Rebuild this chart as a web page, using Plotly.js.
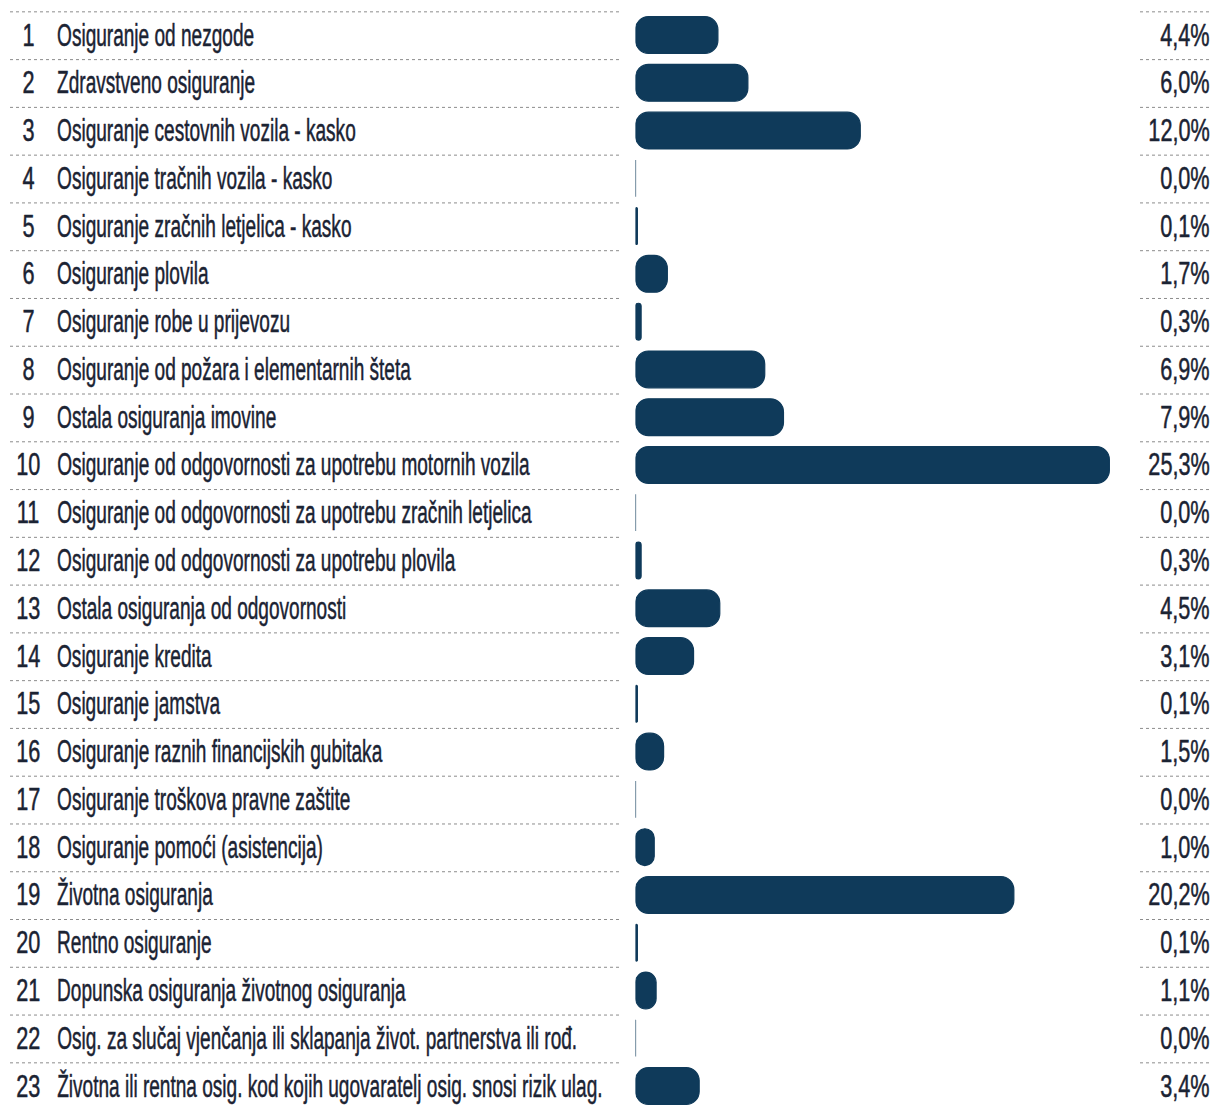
<!DOCTYPE html>
<html><head><meta charset="utf-8">
<script src="https://cdn.plot.ly/plotly-3.0.1.min.js"></script>
<style>html,body{margin:0;padding:0;background:#fff}#chart{width:1213px;height:1106px}</style>
</head><body><div id="chart"></div>
<script>
const rankNumbers = ["1","2","3","4","5","6","7","8","9","10","11","12","13","14","15","16","17","18","19","20","21","22","23"];
const categories = [
  "Osiguranje od nezgode",
  "Zdravstveno osiguranje",
  "Osiguranje cestovnih vozila - kasko",
  "Osiguranje tračnih vozila - kasko",
  "Osiguranje zračnih letjelica - kasko",
  "Osiguranje plovila",
  "Osiguranje robe u prijevozu",
  "Osiguranje od požara i elementarnih šteta",
  "Ostala osiguranja imovine",
  "Osiguranje od odgovornosti za upotrebu motornih vozila",
  "Osiguranje od odgovornosti za upotrebu zračnih letjelica",
  "Osiguranje od odgovornosti za upotrebu plovila",
  "Ostala osiguranja od odgovornosti",
  "Osiguranje kredita",
  "Osiguranje jamstva",
  "Osiguranje raznih financijskih gubitaka",
  "Osiguranje troškova pravne zaštite",
  "Osiguranje pomoći (asistencija)",
  "Životna osiguranja",
  "Rentno osiguranje",
  "Dopunska osiguranja životnog osiguranja",
  "Osig. za slučaj vjenčanja ili sklapanja život. partnerstva ili rođ.",
  "Životna ili rentna osig. kod kojih ugovaratelj osig. snosi rizik ulag."
];
const shares = [4.4, 6.0, 12.0, 0.0, 0.1, 1.7, 0.3, 6.9, 7.9, 25.3, 0.0, 0.3, 4.5, 3.1, 0.1, 1.5, 0.0, 1.0, 20.2, 0.1, 1.1, 0.0, 3.4];

const W = 1213, H = 1106;
const BAR = '#0f3a5a';
const TXT = '#1b2333';
const FONT = '"Liberation Sans", Arial, sans-serif';
const FS = 31;

const traces = [
  {type: 'bar', orientation: 'h', y: categories, x: shares, base: 0,
   width: 0.77, marker: {color: BAR, cornerradius: 13, line: {color: BAR, width: 1.2}},
   hoverinfo: 'skip', showlegend: false}
];

const annotations = [];
categories.forEach((c, i) => {
  annotations.push({xref: 'paper', yref: 'y', x: 28 / W, y: c, text: rankNumbers[i], showarrow: false,
    xanchor: 'center', yanchor: 'middle', yshift: 0, font: {family: FONT, size: FS, color: TXT}});
  annotations.push({xref: 'paper', yref: 'y', x: 55 / W, y: c, text: c, showarrow: false,
    xanchor: 'left', yanchor: 'middle', yshift: 0, font: {family: FONT, size: FS, color: TXT}});
  annotations.push({xref: 'paper', yref: 'y', x: 1212 / W, y: c, text: shares[i].toFixed(1).replace('.', ',') + '%', showarrow: false,
    xanchor: 'right', yanchor: 'middle', yshift: 0, font: {family: FONT, size: FS, color: TXT}});
});

const shapes = [];
categories.forEach((c, i) => {
  const yl = i - 0.485;
  shapes.push({type: 'line', xref: 'paper', yref: 'y', x0: 10 / W, x1: 619 / W, y0: yl, y1: yl,
    line: {color: '#8c8c8c', width: 1, dash: 'dot'}});
  shapes.push({type: 'line', xref: 'paper', yref: 'y', x0: 1140 / W, x1: 1211 / W, y0: yl, y1: yl,
    line: {color: '#8c8c8c', width: 1, dash: 'dot'}});
});

const layout = {
  width: W, height: H,
  margin: {l: 0, r: 0, t: 0, b: 0, pad: 0},
  paper_bgcolor: '#fff', plot_bgcolor: '#fff',
  showlegend: false,
  xaxis: {domain: [635.5 / W, 1], range: [0, (W - 635.5) / 18.73], visible: false, fixedrange: true},
  yaxis: {type: 'category', categoryorder: 'array', categoryarray: categories,
    range: [22.4187, -0.7327], visible: false, fixedrange: true},
  annotations: annotations,
  shapes: shapes
};

// horizontal condensing of the text (the reference uses a very condensed face)
const SCALE = [0.70, 0.615, 0.70];     // number, label, percent columns
const ANCHOR = ['middle', 'start', 'end'];
Plotly.newPlot('chart', traces, layout, {staticPlot: true, displayModeBar: false}).then(gd => {
  gd.querySelectorAll('g.annotation').forEach(g => {
    const idx = +g.getAttribute('data-index');
    const col = idx % 3;
    const t = g.querySelector('text.annotation-text');
    if (!t) return;
    const b = t.getBBox();
    const a = ANCHOR[col] === 'start' ? b.x : (ANCHOR[col] === 'end' ? b.x + b.width : b.x + b.width / 2);
    const s = SCALE[col];
    t.setAttribute('transform', `translate(${a},0) scale(${s},1) translate(${-a},0)`);
    t.style.stroke = TXT;
    t.style.strokeWidth = '0.5px';
    t.style.strokeLinejoin = 'round';
  });
});
</script>
</body></html>
